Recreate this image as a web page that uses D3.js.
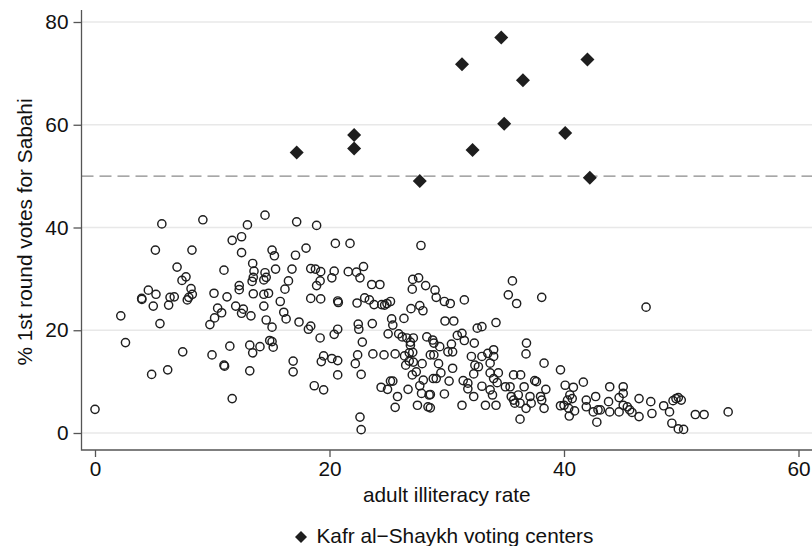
<!DOCTYPE html>
<html>
<head>
<meta charset="utf-8">
<script src="https://cdn.jsdelivr.net/npm/d3@7.9.0/dist/d3.min.js"></script>
<style>
  body { margin: 0; background: #fff; }
  svg { display: block; font-family: "Liberation Sans", Arial, sans-serif; }
</style>
</head>
<body>
<svg id="chart" width="812" height="546"></svg>
<script>
// [adult illiteracy rate, % 1st round votes for Sabahi]
const otherCenters = [
  [0,4.6],[2.2,22.8],[2.6,17.6],[5.7,40.7],[9.2,41.5],[13.0,40.5],[5.15,35.6],[8.27,35.6],[7.0,32.3],[7.76,30.4],
  [7.42,29.7],[8.19,28.1],[8.3,27.0],[8.0,26.4],[7.87,25.9],[4.55,27.8],[3.98,26.2],[4.0,26.0],[5.2,27.0],[4.97,24.7],
  [6.4,26.4],[6.76,26.5],[6.28,24.9],[5.54,21.3],[10.15,27.2],[11.26,26.5],[11.0,31.7],[11.7,37.5],[12.5,38.2],[12.5,35.1],
  [13.45,33.0],[13.56,31.5],[13.4,29.5],[13.5,30.3],[12.3,28.7],[12.3,27.9],[13.5,27.1],[10.46,24.3],[10.2,22.4],[9.8,21.1],
  [10.8,23.4],[12.0,24.7],[12.65,24.1],[12.5,23.3],[13.3,22.8],[11.5,16.9],[13.2,17.1],[13.45,15.6],[9.98,15.2],[7.48,15.8],
  [11.0,13.2],[11.05,13.0],[13.2,12.1],[6.2,12.3],[4.83,11.4],[11.7,6.7],
  [14.5,42.4],[17.2,41.1],[18.9,40.4],[20.5,36.9],[21.75,36.9],[27.8,36.5],[15.1,35.6],[15.3,34.5],[17.1,34.6],[18.0,36.0],
  [14.5,31.2],[14.6,30.3],[14.4,29.8],[15.4,31.9],[16.8,31.9],[16.5,29.6],[16.2,28.0],[14.4,27.0],[14.8,27.2],[14.4,24.7],
  [15.8,25.6],[16.1,23.5],[16.3,22.2],[14.6,22.0],[15.1,20.6],[17.4,21.6],[18.2,20.2],[18.4,20.8],[18.4,32.0],[18.8,31.9],
  [19.25,31.4],[20.4,31.5],[20.2,30.2],[19.2,29.6],[18.9,28.7],[18.4,26.2],[19.25,26.1],[20.7,25.7],[20.75,25.4],[21.6,31.4],
  [22.3,31.3],[22.6,30.2],[22.9,32.4],[23.6,28.9],[24.3,28.9],[22.35,25.3],[23.0,26.3],[23.4,25.9],[23.8,25.0],[24.45,25.0],
  [24.7,24.9],[25.2,25.6],[24.9,25.2],[14.07,16.8],[14.9,18.0],[15.1,17.8],[15.2,16.7],[16.9,14.0],[16.9,11.9],[19.2,18.5],
  [20.4,19.2],[20.7,20.2],[19.5,15.0],[19.3,13.9],[20.2,14.5],[20.7,14.1],[20.7,11.3],[18.7,9.2],[19.5,8.4],[22.45,21.2],
  [22.5,20.2],[22.8,17.7],[23.65,21.3],[22.4,15.2],[22.2,13.5],[22.7,11.4],[23.7,15.4],[24.65,15.2],[25.6,15.4],[22.6,3.1],
  [22.7,0.65],[25.3,22.2],[25.4,21.0],[25.0,19.3],[25.9,19.3],[26.35,22.3],[26.95,24.2],[27.7,24.8],[27.97,23.8],[27.06,28.0],
  [27.1,29.9],[27.6,30.2],[28.2,28.7],[26.2,18.7],[26.6,18.5],[26.9,17.7],[27.15,18.5],[28.3,18.7],[26.9,17.1],[27.1,15.7],
  [26.8,15.6],[26.4,15.0],[26.5,13.2],[26.8,14.0],[27.15,13.8],[27.9,13.5],[27.06,11.3],[27.4,11.9],[28.0,10.3],[28.6,15.2],
  [24.4,8.9],[24.95,8.5],[25.2,10.1],[25.4,10.1],[25.8,7.1],[25.6,5.0],[26.7,8.5],[27.5,5.4],[27.7,9.2],[27.85,7.7],
  [28.4,5.1],[28.5,7.4],
  [29.0,27.8],[29.1,26.4],[29.8,25.6],[30.3,25.2],[31.5,25.9],[29.85,21.8],[30.6,21.8],[28.8,18.1],[28.9,17.5],[29.4,16.8],
  [28.9,15.2],[30.1,15.8],[30.5,15.8],[30.4,17.3],[30.9,19.0],[31.3,19.4],[31.5,18.0],[32.35,17.5],[32.6,20.4],[33.0,20.7],
  [34.2,21.5],[28.6,7.5],[28.6,4.9],[28.85,10.6],[29.3,13.5],[29.5,11.7],[29.1,10.6],[29.8,7.6],[30.2,10.1],[30.5,12.6],
  [31.3,5.4],[31.4,10.2],[31.8,9.7],[31.8,8.6],[32.3,7.1],[32.1,14.9],[32.4,13.2],[32.7,12.9],[32.3,11.5],[33.0,14.9],
  [33.0,9.1],[33.3,5.4],[33.5,15.5],[33.7,13.6],[34.0,14.9],[34.0,16.2],[33.7,11.7],[34.0,10.6],[34.4,11.7],[34.3,9.8],
  [33.7,8.4],[33.9,7.4],[34.2,5.4],[35.0,9.0],[35.4,9.0],[35.7,11.3],[36.3,11.3],[35.5,7.1],[35.7,6.4],[35.8,5.8],
  [36.1,7.4],[36.25,5.8],[36.6,9.0],[36.76,4.8],[36.25,2.7],[37.1,7.1],[37.2,5.8],[37.5,10.2],[37.65,10.0],[38.0,7.1],
  [38.1,6.4],[38.3,4.8],[38.45,8.5],[36.8,17.5],[36.76,15.4],[38.3,13.6],[35.25,26.9],[35.6,29.6],[35.96,25.2],[38.1,26.4],
  [39.7,12.3],[40.1,9.3],[40.8,8.9],[41.65,9.9],[39.7,5.3],[40.0,5.4],[40.3,6.4],[40.5,7.4],[40.7,6.7],[40.4,4.8],
  [40.45,3.3],[40.9,4.3],[41.9,6.4],[41.9,5.1],[42.7,7.1],[42.5,4.1],[42.8,2.1],[42.9,4.5],
  [47.0,24.5],[43.1,4.5],[43.9,9.0],[43.8,6.1],[43.9,4.1],[44.7,4.1],[44.7,6.9],[45.05,9.0],[45.05,7.7],[45.05,5.4],
  [45.4,5.1],[45.6,4.5],[45.8,4.0],[46.4,6.7],[46.4,3.2],[47.4,6.1],[47.5,3.8],[48.5,5.3],[49.0,4.1],[49.3,6.3],
  [49.55,6.7],[49.75,6.9],[50.0,6.4],[49.2,1.9],[49.75,0.8],[50.2,0.7],[51.2,3.6],[51.95,3.6],[54.0,4.1]
];

const kafrCenters = [
  [17.2,54.6],[22.1,58.0],[22.1,55.4],[27.7,49.05],[31.3,71.8],[32.2,55.1],
  [34.65,77.0],[34.9,60.2],[36.5,68.65],[42.0,72.7],[40.1,58.4],[42.2,49.7]
];

const xTicks = [0, 20, 40, 60];
const yTicks = [0, 20, 40, 60, 80];
const threshold = 50;
const xTitle = 'adult illiteracy rate';
const yTitle = '% 1st round votes for Sabahi';
const legendLabel = 'Kafr al\u2212Shaykh voting centers';

const svg = d3.select('#chart');
const plot = { left: 81.5, right: 812, top: 10, bottom: 450 };
const ink = '#1e1e1e';
const fontSize = '20.8px';

const x = d3.scaleLinear().domain([0, 60]).range([95, 798.5]);
const y = d3.scaleLinear().domain([0, 80]).range([433, 22]);

// gridlines
svg.append('g')
  .selectAll('line')
  .data(yTicks)
  .join('line')
  .attr('x1', plot.left).attr('x2', plot.right)
  .attr('y1', d => y(d)).attr('y2', d => y(d))
  .attr('stroke', '#e8e8e8')
  .attr('stroke-width', 1.4);

// reference line at 50%
svg.append('line')
  .attr('x1', plot.left).attr('x2', plot.right)
  .attr('y1', y(threshold)).attr('y2', y(threshold))
  .attr('stroke', '#8a8a8a')
  .attr('stroke-width', 1.4)
  .attr('stroke-dasharray', '12,6');

// axes
const yAxis = d3.axisLeft(y).tickValues(yTicks).tickSize(8).tickPadding(5);
const gy = svg.append('g')
  .attr('transform', `translate(${plot.left},0)`)
  .call(yAxis);
gy.select('.domain').remove();
gy.selectAll('.tick line').attr('stroke', '#555').attr('stroke-width', 1.3);
gy.selectAll('.tick text')
  .attr('fill', '#111')
  .style('font-size', fontSize);

const xAxis = d3.axisBottom(x).tickValues(xTicks).tickSize(7).tickPadding(4);
const gx = svg.append('g')
  .attr('transform', `translate(0,${plot.bottom})`)
  .call(xAxis);
gx.select('.domain').remove();
gx.selectAll('.tick line').attr('stroke', '#555').attr('stroke-width', 1.3);
gx.selectAll('.tick text')
  .attr('fill', '#111')
  .style('font-size', fontSize);

svg.append('path')
  .attr('d', `M${plot.left},${plot.top}V${plot.bottom}H${plot.right}`)
  .attr('fill', 'none')
  .attr('stroke', '#555')
  .attr('stroke-width', 1.3);

// hollow circles: other voting centers
svg.append('g')
  .selectAll('circle')
  .data(otherCenters)
  .join('circle')
  .attr('cx', d => x(d[0]))
  .attr('cy', d => y(d[1]))
  .attr('r', 4.1)
  .attr('fill', 'none')
  .attr('stroke', ink)
  .attr('stroke-width', 1.45);

// filled diamonds: Kafr al-Shaykh
const diamond = d3.symbol().type(d3.symbolSquare).size(98);
svg.append('g')
  .selectAll('path')
  .data(kafrCenters)
  .join('path')
  .attr('d', diamond)
  .attr('transform', d => `translate(${x(d[0])},${y(d[1])}) rotate(45)`)
  .attr('fill', ink);

// titles
svg.append('text')
  .attr('x', (plot.left + plot.right) / 2)
  .attr('y', 501.5)
  .attr('text-anchor', 'middle')
  .attr('fill', '#111')
  .style('font-size', fontSize)
  .text(xTitle);

svg.append('text')
  .attr('transform', 'translate(32,232) rotate(-90)')
  .attr('text-anchor', 'middle')
  .attr('fill', '#111')
  .style('font-size', fontSize)
  .text(yTitle);

// legend
const legend = svg.append('g').attr('transform', 'translate(301,537)');
legend.append('path')
  .attr('d', d3.symbol().type(d3.symbolSquare).size(72))
  .attr('transform', 'rotate(45)')
  .attr('fill', ink);
legend.append('text')
  .attr('x', 15.5)
  .attr('y', 5.5)
  .attr('fill', '#111')
  .style('font-size', fontSize)
  .text(legendLabel);
</script>
</body>
</html>
